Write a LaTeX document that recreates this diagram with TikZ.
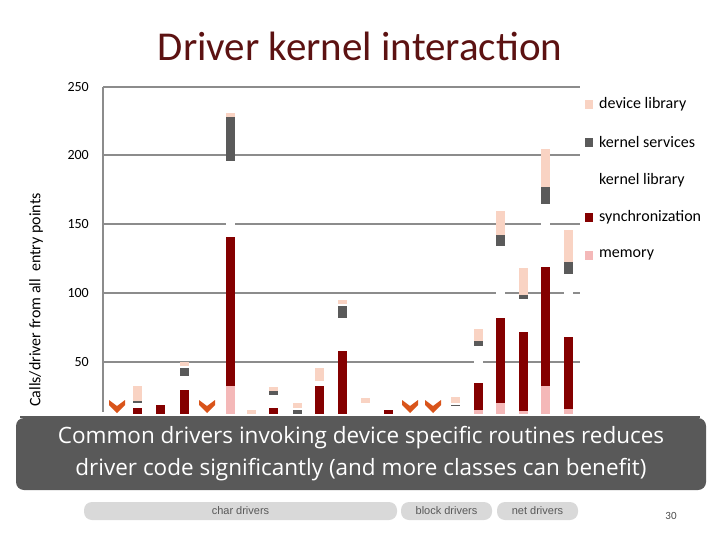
\documentclass[tikz,border=0pt]{standalone}
\usepackage{fontspec}
\setmainfont{Carlito}
\newfontfamily\osans{Open Sans}
\newfontfamily\lsans{Liberation Sans}
\definecolor{dev}{HTML}{F9D3C3}
\definecolor{ks}{HTML}{5A5A5A}
\definecolor{syn}{HTML}{840000}
\definecolor{mem}{HTML}{F4B8B8}
\definecolor{chev}{HTML}{D9541A}
\definecolor{ttl}{HTML}{5C1212}
\definecolor{grd}{HTML}{8C8C8C}
\tikzset{pill/.style={fill=black!15,rounded corners=8pt,minimum height=18pt,inner sep=0pt,font=\lsans\fontsize{11}{12}\selectfont,text=black!65},
legtext/.style={anchor=west,font=\fontsize{16}{17}\selectfont,inner sep=0pt},
tick/.style={anchor=east,font=\fontsize{14}{15}\selectfont,inner sep=0pt}}
\newcommand{\seg}[4]{\fill[#4] ({#1-4.5},{431-1.378*(#2)}) rectangle ({#1+4.5},{431-1.378*(#3)});}
\newcommand{\chevron}[1]{\fill[chev] ({#1-8},400) -- ({#1},406) -- ({#1+8},400) -- ({#1+8},405) -- ({#1},413) -- ({#1-8},405) -- cycle;}
\begin{document}
\begin{tikzpicture}[x=1pt,y=-1pt]
\useasboundingbox (0,0) rectangle (720,540);
\fill[white] (0,0) rectangle (720,540);
\node[text=ttl,font=\fontsize{41}{43}\selectfont] (title) at (360,46) {Driver kernel interaction};
% grid
\foreach \y/\l in {87/250,155/200,224/150,293/100,362/50}{
  \draw[grd,line width=1.2pt] (103,\y) -- (580,\y);
  \node[tick] at (89,\y) {\l};
}
\draw[grd,line width=1.2pt] (103,87) -- (103,412);
\begin{scope}
\clip (20,80) rectangle (700,413);
\node[rotate=90,font=\fontsize{16}{17}\selectfont] (ylab) at (36,300) {Calls/driver from all \ entry points};
\seg{137}{0}{16.7}{syn}\seg{137}{20}{21.5}{ks}\seg{137}{22}{33}{dev}
\seg{160}{0}{19}{syn}
\seg{184}{0}{30}{syn}\seg{184}{40}{46}{ks}\seg{184}{47}{50}{dev}
\seg{230}{0}{33}{mem}\seg{230}{33}{141}{syn}\seg{230}{141}{196}{white}\seg{230}{196}{228}{ks}\seg{230}{228}{231}{dev}
\seg{251}{0}{15}{dev}
\seg{273}{0}{16.7}{syn}\seg{273}{26}{29}{ks}\seg{273}{29}{32}{dev}
\seg{297}{0}{15}{ks}\seg{297}{16.7}{20.3}{dev}
\seg{319}{0}{33}{syn}\seg{319}{36}{46}{dev}
\seg{342}{0}{58}{syn}\seg{342}{82}{91}{ks}\seg{342}{92}{95}{dev}
\seg{365}{20}{24}{dev}
\seg{388}{0}{15}{syn}
\seg{455}{18.5}{19.2}{ks}\seg{455}{20}{25}{dev}
\seg{478}{0}{15.2}{mem}\seg{478}{15.2}{35}{syn}\seg{478}{35}{62}{white}\seg{478}{62}{65}{ks}\seg{478}{65}{74}{dev}
\seg{500}{0}{20}{mem}\seg{500}{20}{82}{syn}\seg{500}{82}{134}{white}\seg{500}{134}{142}{ks}\seg{500}{142}{160}{dev}
\seg{523}{0}{14.5}{mem}\seg{523}{14.5}{72}{syn}\seg{523}{72}{96}{white}\seg{523}{96}{99}{ks}\seg{523}{99}{118}{dev}
\seg{545}{0}{33}{mem}\seg{545}{33}{119}{syn}\seg{545}{119}{165}{white}\seg{545}{165}{177}{ks}\seg{545}{177}{205}{dev}
\seg{568}{0}{16}{mem}\seg{568}{16}{68}{syn}\seg{568}{68}{114}{white}\seg{568}{114}{123}{ks}\seg{568}{123}{146}{dev}
\end{scope}
\chevron{117}\chevron{207}\chevron{410}\chevron{433}
\draw[ks,line width=1.5pt] (20,417) -- (700,417);
% legend
\foreach \y/\c/\t in {104/dev/device library,142/ks/kernel services,180/white/kernel library,217/syn/synchronization,255/mem/memory}{
  \fill[\c] (585,{\y-4}) rectangle (593,{\y+5});
  \node[legtext] at (599,\y) {\t};
}
% callout
\node[fill=black!65,rounded corners=8pt,text=white,minimum width=690pt,minimum height=72pt,align=center,font=\osans\fontsize{22.5}{32}\selectfont] (box) at (361,454) {Common drivers invoking device specific routines reduces\\driver code significantly (and more classes can benefit)};
\node[pill,minimum width=313pt] (char) at (240.5,511) {char drivers};
\node[pill,minimum width=91pt] (block) at (446.5,511) {block drivers};
\node[pill,minimum width=81pt] (net) at (537.5,511) {net drivers};
\node[font=\fontsize{11}{12}\selectfont,text=black!70] (pg) at (671,516) {30};
\end{tikzpicture}
\end{document}
